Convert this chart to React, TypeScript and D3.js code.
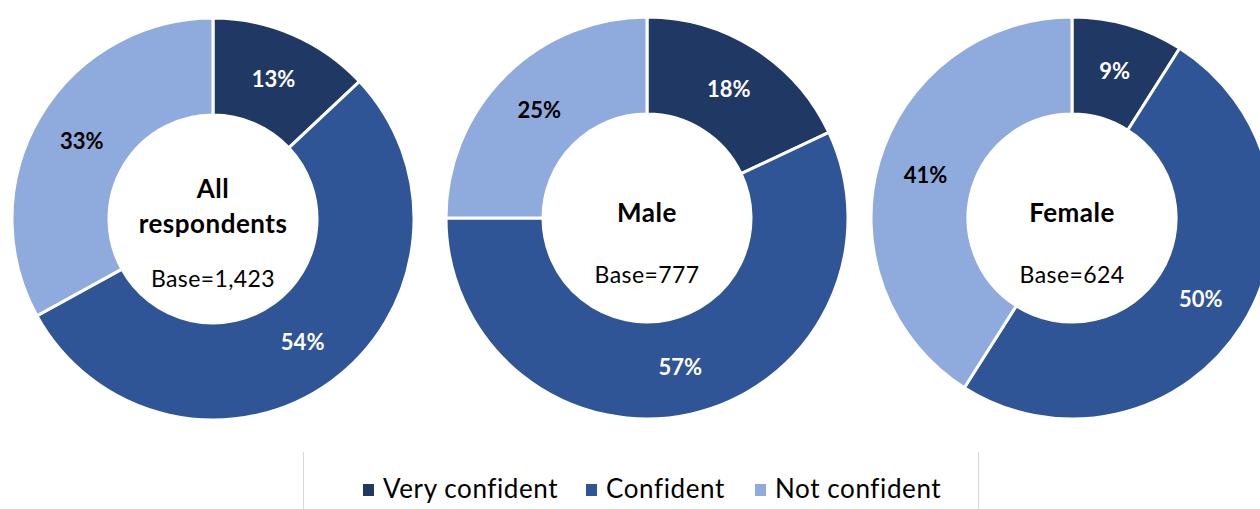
import React from "react";
import * as d3 from "d3";

const categories = ["Very confident", "Confident", "Not confident"];
const colors = ["#203864", "#2F5597", "#8FAADC"];
const labelColors = ["#ffffff", "#ffffff", "#000000"];

const groupTitles = [["All", "respondents"], ["Male"], ["Female"]];
const groupBases = ["Base=1,423", "Base=777", "Base=624"];
const allValues = [13, 54, 33];
const maleValues = [18, 57, 25];
const femaleValues = [9, 50, 41];
const groupValues = [allValues, maleValues, femaleValues];

const centers = [
  { x: 213, y: 219 },
  { x: 647, y: 218 },
  { x: 1072, y: 218 },
];

const FONT = "Lato, 'Open Sans', sans-serif";

export default function App() {
  const outerR = 201;
  const innerR = 104;
  const pie = d3
    .pie<number>()
    .sort(null)
    .value((d) => d);
  const arc = d3.arc<d3.PieArcDatum<number>>().innerRadius(innerR).outerRadius(outerR);

  const legendX = [363, 586, 755];

  return (
    <svg
      width={1260}
      height={509}
      style={{ position: "absolute", left: 0, top: 0, background: "#fff" }}
      fontFamily={FONT}
    >
      {groupValues.map((vals, gi) => {
        const arcs = pie(vals);
        const c = centers[gi];
        const titles = groupTitles[gi];
        return (
          <g key={gi} transform={`translate(${c.x},${c.y})`}>
            {arcs.map((a, i) => (
              <path key={i} d={arc(a) || ""} fill={colors[i]} stroke="#fff" strokeWidth={3} />
            ))}
            {arcs.map((a, i) => {
              const [x, y] = arc.centroid(a);
              return (
                <text
                  key={"l" + i}
                  x={x}
                  y={y}
                  dy="0.35em"
                  textAnchor="middle"
                  fontWeight="bold"
                  fontSize={22}
                  fill={labelColors[i]}
                >
                  {a.data}%
                </text>
              );
            })}
            {titles.length === 2 ? (
              <>
                <text x={0} y={-21} textAnchor="middle" fontWeight="bold" fontSize={26} letterSpacing={0.5} fill="#000">
                  {titles[0]}
                </text>
                <text x={0} y={14} textAnchor="middle" fontWeight="bold" fontSize={26} letterSpacing={0.5} fill="#000">
                  {titles[1]}
                </text>
                <text x={0} y={68} textAnchor="middle" fontSize={23} letterSpacing={0.4} fill="#000">
                  {groupBases[gi]}
                </text>
              </>
            ) : (
              <>
                <text x={0} y={4} textAnchor="middle" fontWeight="bold" fontSize={26} letterSpacing={0.5} fill="#000">
                  {titles[0]}
                </text>
                <text x={0} y={65} textAnchor="middle" fontSize={23} letterSpacing={0.4} fill="#000">
                  {groupBases[gi]}
                </text>
              </>
            )}
          </g>
        );
      })}
      <line x1={303.5} x2={303.5} y1={452} y2={509} stroke="#d9d9d9" strokeWidth={1} />
      <line x1={978.5} x2={978.5} y1={452} y2={509} stroke="#d9d9d9" strokeWidth={1} />
      {categories.map((cat, i) => (
        <g key={cat}>
          <rect x={legendX[i]} y={484} width={11} height={12} fill={colors[i]} />
          <text x={legendX[i] + 20} y={498} fontSize={26} letterSpacing={0.6} fill="#000">
            {cat}
          </text>
        </g>
      ))}
    </svg>
  );
}
